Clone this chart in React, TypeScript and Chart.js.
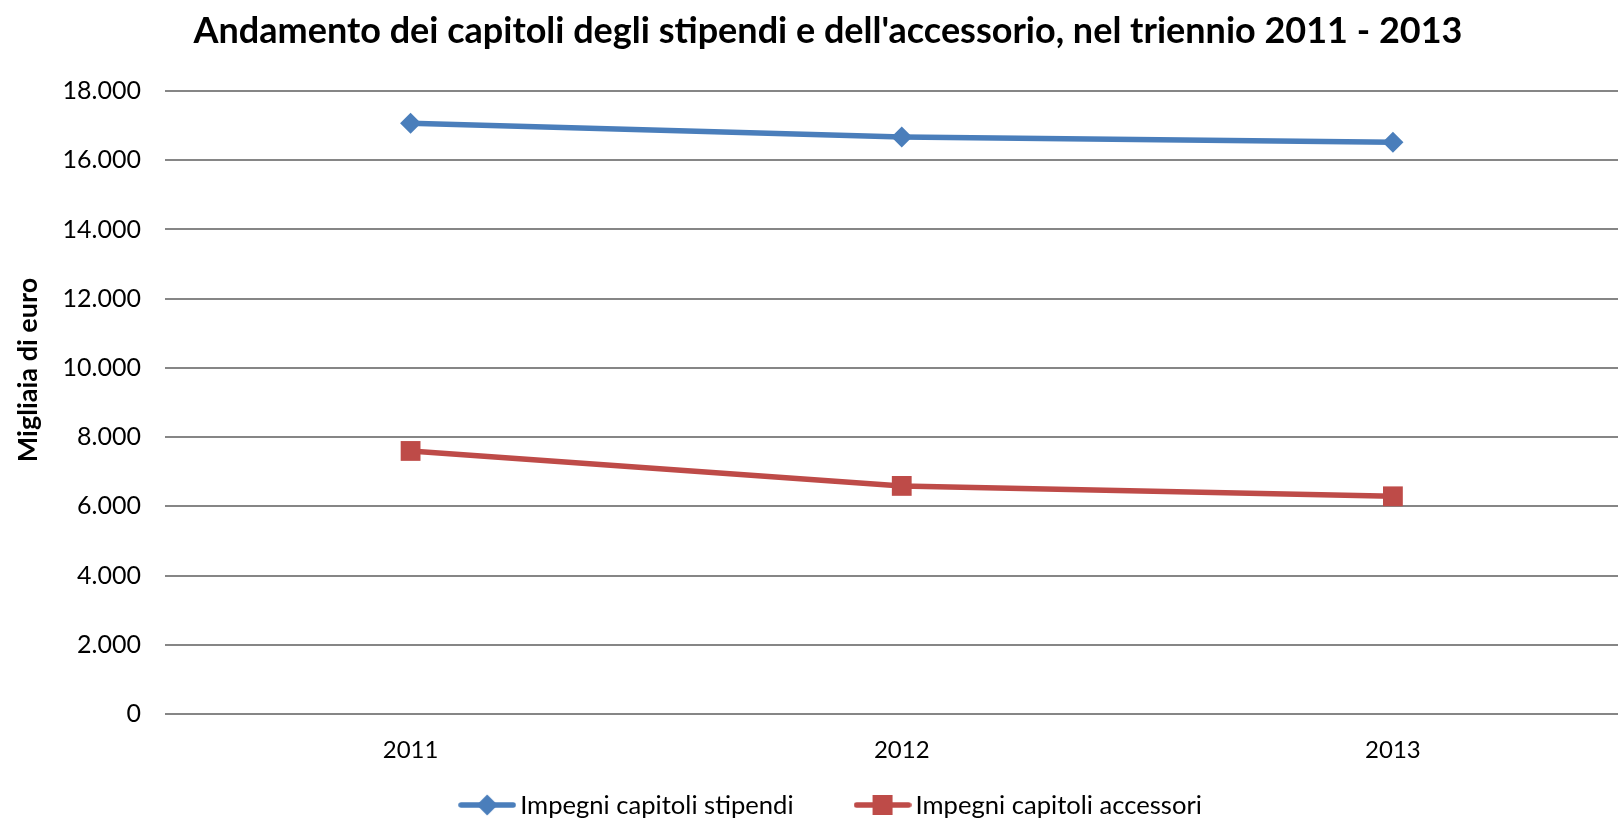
import React, { useEffect, useRef } from "react";
import { Chart, registerables } from "chart.js";

Chart.register(...registerables);

// ---- data ----
const categories = ["2011", "2012", "2013"];
const stipendi = [17070, 16670, 16520];
const accessori = [7600, 6590, 6290];
const seriesNames = ["Impegni capitoli stipendi", "Impegni capitoli accessori"];
const yMin = 0;
const yMax = 18000;
const yStep = 2000;
const chartTitle =
  "Andamento dei capitoli degli stipendi e dell'accessorio, nel triennio 2011 - 2013";
const yAxisTitle = "Migliaia di euro";

const BLUE = "#4A7EBB";
const RED = "#BE4B48";
const GRID = "#868686";
const FONT = "Lato";

const formatThousands = (v: number) =>
  String(v).replace(/\B(?=(\d{3})+(?!\d))/g, ".");

function makeLegendIcon(color: string, kind: "diamond" | "square") {
  const c = document.createElement("canvas");
  c.width = 58;
  c.height = 22;
  const ctx = c.getContext("2d")!;
  ctx.strokeStyle = color;
  ctx.lineWidth = 5.5;
  ctx.lineCap = "round";
  ctx.beginPath();
  ctx.moveTo(3, 11);
  ctx.lineTo(55, 11);
  ctx.stroke();
  ctx.fillStyle = color;
  if (kind === "diamond") {
    ctx.beginPath();
    ctx.moveTo(29, 0.5);
    ctx.lineTo(39.5, 11);
    ctx.lineTo(29, 21.5);
    ctx.lineTo(18.5, 11);
    ctx.closePath();
    ctx.fill();
  } else {
    ctx.fillRect(19, 1, 20, 20);
  }
  return c;
}

// y-axis title, drawn to the left of the tick labels
const yTitlePlugin = {
  id: "yTitlePlugin",
  afterDraw(chart: any) {
    const ctx = chart.ctx;
    ctx.save();
    ctx.translate(28, 370);
    ctx.rotate(-Math.PI / 2);
    ctx.font = `bold 27px ${FONT}`;
    ctx.textAlign = "center";
    ctx.textBaseline = "middle";
    ctx.fillStyle = "#000";
    ctx.fillText(yAxisTitle, 0, 0);
    ctx.restore();
  },
};

// legend with line + marker samples, built from the datasets
const makeLegendPlugin = (icons: HTMLCanvasElement[]) => ({
  id: "lineLegend",
  afterDraw(chart: any) {
    const ctx = chart.ctx;
    ctx.save();
    ctx.font = `25.6px ${FONT}`;
    ctx.textBaseline = "middle";
    ctx.textAlign = "left";
    ctx.fillStyle = "#000";
    const iconW = 58;
    const textGap = 4;
    const itemGap = 60;
    const items = chart.data.datasets.map((ds: any, i: number) => ({
      text: ds.label as string,
      icon: icons[i],
      w: ctx.measureText(ds.label).width,
    }));
    const total =
      items.reduce((s: number, it: any) => s + iconW + textGap + it.w, 0) +
      itemGap * (items.length - 1);
    const cy = 805;
    let x = 830 - total / 2;
    items.forEach((it: any) => {
      ctx.drawImage(it.icon, x, cy - 11);
      x += iconW + textGap;
      ctx.fillText(it.text, x, cy + 1);
      x += it.w + itemGap;
    });
    ctx.restore();
  },
});

export default function App() {
  const ref = useRef<HTMLCanvasElement>(null);

  useEffect(() => {
    const icons = [makeLegendIcon(BLUE, "diamond"), makeLegendIcon(RED, "square")];
    const chart = new Chart(ref.current!, {
      type: "line",
      data: {
        labels: categories,
        datasets: [
          {
            label: seriesNames[0],
            data: stipendi,
            borderColor: BLUE,
            backgroundColor: BLUE,
            borderWidth: 5.5,
            pointStyle: "rectRot",
            pointRadius: 10.5,
            pointHoverRadius: 10.5,
            pointBorderWidth: 0,
            pointBackgroundColor: BLUE,
            tension: 0,
            clip: false as any,
          },
          {
            label: seriesNames[1],
            data: accessori,
            borderColor: RED,
            backgroundColor: RED,
            borderWidth: 5.5,
            pointStyle: "rect",
            pointRadius: 14,
            pointHoverRadius: 14,
            pointBorderWidth: 0,
            pointBackgroundColor: RED,
            tension: 0,
            clip: false as any,
          },
        ],
      },
      options: {
        responsive: false,
        maintainAspectRatio: false,
        animation: false,
        layout: { padding: { left: 17.5, right: 17.5, top: 0, bottom: 50 } },
        plugins: {
          title: {
            display: true,
            text: chartTitle,
            color: "#000",
            font: { family: FONT, size: 36, weight: "bold" },
            padding: { top: 9.4, bottom: 38.4 },
          },
          legend: { display: false },
          tooltip: { enabled: false },
        },
        scales: {
          x: {
            type: "category",
            offset: true,
            grid: { display: false, drawTicks: false },
            border: { display: false },
            ticks: {
              color: "#000",
              font: { family: FONT, size: 24 },
              padding: 22,
            },
            afterFit: (s: any) => {
              s.height = 56;
            },
          },
          y: {
            min: yMin,
            max: yMax,
            grid: { color: GRID, lineWidth: 2, drawTicks: false },
            border: { display: false },
            ticks: {
              stepSize: yStep,
              color: "#000",
              font: { family: FONT, size: 25 },
              padding: 24,
              callback: (v: any) => formatThousands(Number(v)),
            },
            afterFit: (s: any) => {
              s.width = 147.5;
            },
          },
        },
      },
      plugins: [yTitlePlugin, makeLegendPlugin(icons)],
    });
    return () => chart.destroy();
  }, []);

  return (
    <div
      style={{
        position: "fixed",
        left: 0,
        top: 0,
        width: 1618,
        height: 820,
        overflow: "hidden",
        background: "#fff",
      }}
    >
      <canvas ref={ref} width={1656} height={820} style={{ display: "block" }} />
    </div>
  );
}
